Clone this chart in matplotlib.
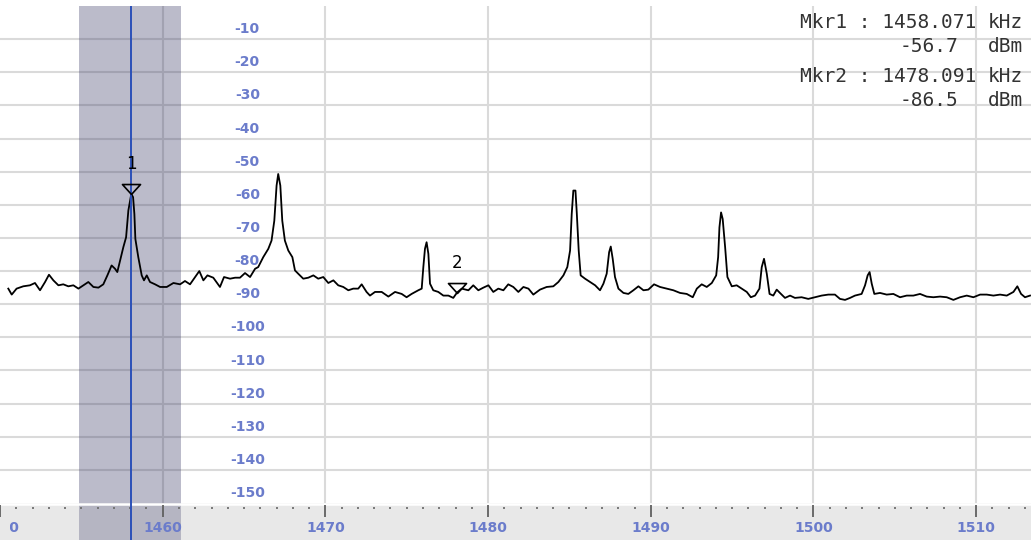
import matplotlib.pyplot as plt
from matplotlib.path import Path
from matplotlib.transforms import Bbox, TransformedBbox

# spectrum trace (kHz, dBm)
freq_khz = [
    1450.51, 1450.72, 1451.02, 1451.43, 1451.84, 1452.15, 1452.46, 1452.77, 1453.01, 1453.28,
    1453.59, 1453.89, 1454.20, 1454.51, 1454.82, 1455.12, 1455.43, 1455.74, 1456.05, 1456.35,
    1456.60, 1456.86, 1457.07, 1457.21, 1457.38, 1457.58, 1457.75, 1457.89, 1458.07, 1458.18,
    1458.26, 1458.32, 1458.50, 1458.71, 1458.85, 1459.02, 1459.22, 1459.53, 1459.84, 1460.25,
    1460.66, 1461.07, 1461.37, 1461.68, 1461.99, 1462.25, 1462.50, 1462.75, 1463.11, 1463.52,
    1463.77, 1464.14, 1464.45, 1464.75, 1465.06, 1465.37, 1465.68, 1465.87, 1466.18, 1466.49,
    1466.69, 1466.86, 1467.00, 1467.10, 1467.23, 1467.35, 1467.51, 1467.72, 1467.97, 1468.13,
    1468.33, 1468.64, 1468.95, 1469.26, 1469.56, 1469.87, 1470.18, 1470.49, 1470.79, 1471.10,
    1471.41, 1471.71, 1472.02, 1472.23, 1472.53, 1472.74, 1473.05, 1473.46, 1473.87, 1474.28,
    1474.69, 1474.99, 1475.30, 1475.71, 1475.92, 1476.02, 1476.12, 1476.22, 1476.33, 1476.43,
    1476.63, 1476.94, 1477.25, 1477.56, 1477.86, 1478.09, 1478.38, 1478.79, 1479.09, 1479.40,
    1479.71, 1480.02, 1480.32, 1480.63, 1480.94, 1481.24, 1481.55, 1481.86, 1482.17, 1482.48,
    1482.78, 1483.19, 1483.60, 1484.01, 1484.32, 1484.63, 1484.87, 1485.04, 1485.14, 1485.24,
    1485.37, 1485.45, 1485.57, 1485.69, 1485.96, 1486.27, 1486.58, 1486.88, 1487.09, 1487.29,
    1487.44, 1487.54, 1487.66, 1487.80, 1488.01, 1488.32, 1488.62, 1488.93, 1489.24, 1489.55,
    1489.85, 1490.20, 1490.57, 1490.98, 1491.39, 1491.80, 1492.21, 1492.58, 1492.83, 1493.13,
    1493.44, 1493.75, 1494.02, 1494.14, 1494.22, 1494.32, 1494.42, 1494.57, 1494.71, 1494.98,
    1495.28, 1495.59, 1495.90, 1496.15, 1496.41, 1496.68, 1496.82, 1496.96, 1497.13, 1497.30,
    1497.53, 1497.74, 1497.94, 1498.25, 1498.56, 1498.86, 1499.27, 1499.68, 1500.09, 1500.50,
    1500.91, 1501.32, 1501.63, 1501.94, 1502.25, 1502.55, 1502.96, 1503.17, 1503.33, 1503.45,
    1503.58, 1503.74, 1504.09, 1504.50, 1504.91, 1505.32, 1505.73, 1506.14, 1506.55, 1506.96,
    1507.37, 1507.78, 1508.19, 1508.60, 1509.01, 1509.42, 1509.83, 1510.24, 1510.65, 1511.06,
    1511.47, 1511.88, 1512.29, 1512.53, 1512.76, 1513.00, 1513.31,
]
level_dbm = [
    -85.3, -87.1, -85.3, -84.6, -84.3, -83.6, -85.8, -83.3, -81.1, -82.8,
    -84.3, -84.0, -84.6, -84.3, -85.3, -84.3, -83.3, -84.8, -85.0, -84.0,
    -81.3, -78.3, -79.3, -80.3, -76.8, -72.8, -69.8, -61.7, -56.7, -57.7,
    -62.8, -70.3, -75.8, -81.3, -82.8, -81.3, -83.3, -84.0, -84.8, -84.8,
    -83.6, -84.0, -83.0, -84.0, -81.8, -80.0, -82.8, -81.3, -82.0, -84.8,
    -81.8, -82.3, -82.0, -82.0, -80.6, -81.8, -79.3, -78.8, -75.8, -73.3,
    -70.8, -64.8, -54.2, -50.7, -54.2, -64.8, -70.8, -73.8, -75.8, -79.8,
    -80.8, -82.3, -82.0, -81.3, -82.3, -81.8, -83.6, -82.8, -84.3, -84.8,
    -85.8, -85.3, -85.3, -84.0, -86.3, -87.4, -86.3, -86.3, -87.7, -86.3,
    -86.9, -87.9, -86.9, -85.8, -85.3, -78.8, -73.3, -71.3, -74.8, -83.8,
    -85.8, -86.3, -87.4, -87.4, -88.1, -86.5, -85.3, -85.8, -84.3, -85.8,
    -85.0, -84.3, -86.3, -85.3, -85.8, -84.0, -84.8, -86.3, -84.8, -85.3,
    -87.1, -85.6, -84.8, -84.6, -83.3, -81.3, -78.8, -73.8, -62.8, -55.7,
    -55.7, -62.3, -73.8, -81.3, -82.3, -83.3, -84.3, -85.8, -83.8, -80.8,
    -74.3, -72.6, -76.3, -81.8, -85.3, -86.6, -86.9, -85.8, -84.6, -85.8,
    -85.6, -84.0, -84.8, -85.3, -85.8, -86.6, -86.9, -87.9, -85.3, -84.0,
    -84.8, -83.6, -81.3, -75.8, -66.8, -62.3, -64.3, -72.8, -81.8, -84.6,
    -84.3, -85.3, -86.3, -87.9, -87.4, -85.3, -78.8, -76.3, -80.8, -86.9,
    -87.4, -85.6, -86.6, -88.1, -87.4, -88.1, -87.9, -88.4, -87.9, -87.4,
    -87.1, -87.1, -88.4, -88.7, -88.1, -87.4, -86.9, -84.3, -81.3, -80.3,
    -83.8, -86.9, -86.6, -87.1, -86.9, -87.9, -87.4, -87.4, -86.9, -87.7,
    -87.9, -87.7, -87.9, -88.7, -87.9, -87.4, -87.9, -87.1, -87.1, -87.4,
    -87.1, -87.4, -86.3, -84.6, -86.9, -87.9, -87.4,
]

# markers
mkr_names = ['1', '2']
mkr_freq = [1458.071, 1478.091]
mkr_level = [-56.7, -86.5]

y_ticks = [-10, -20, -30, -40, -50, -60, -70, -80, -90, -100, -110, -120, -130, -140, -150]
x_ticks = [1450, 1460, 1470, 1480, 1490, 1500, 1510]
span_lo, span_hi = 1454.86, 1461.12

x_min, x_max = 1450, 1513.37
lbl_blue = '#6b7ccb'
mkr_blue = '#2b50b8'

fig = plt.figure(figsize=(10.31, 5.40), dpi=100)
fig.patch.set_facecolor('white')

# main trace area
ax = fig.add_axes([0, 37 / 540, 1, 497 / 540])
ax.set_xlim(x_min, x_max)
ax.set_ylim(-150, 0)
for s in ax.spines.values():
    s.set_visible(False)
ax.set_xticks([])
ax.set_yticks([])

for v in y_ticks[:-1]:
    ax.axhline(v, color='#dadada', lw=1.5, zorder=1)
for f in x_ticks[1:]:
    ax.axvline(f, color='#dadada', lw=1.5, zorder=1)

ax.axvspan(span_lo, span_hi, color='#2c2c5c', alpha=0.32, lw=0, zorder=2)

# y labels sit just above their grid line
for v in y_ticks:
    ax.text(1465.2, v + 3.0, str(v), color=lbl_blue, fontsize=10, ha='center', va='center',
            fontweight='bold', zorder=3)

ax.plot(freq_khz, level_dbm, color='black', lw=1.3, zorder=4)

ax.axvline(mkr_freq[0], color=mkr_blue, lw=1.4, zorder=5)

# flat hollow triangle marker, tip on the trace
tri = Path([(-1, 0.55), (1, 0.55), (0, -0.55), (-1, 0.55)],
           [Path.MOVETO, Path.LINETO, Path.LINETO, Path.CLOSEPOLY])
for name, f, v in zip(mkr_names, mkr_freq, mkr_level):
    ax.plot(f, v + 1.5, marker=tri, ms=13, mfc='none', mec='black', mew=1.2, zorder=6)
    ax.text(f, v + 9.0, name, fontsize=12, ha='center', va='center', color='black', zorder=6)

# marker readout
txt_c = '#333333'
rows = [(f'Mkr1 : {mkr_freq[0]:.3f}', 'kHz', 22),
        (f'{mkr_level[0]:.1f}', 'dBm', 47),
        (f'Mkr2 : {mkr_freq[1]:.3f}', 'kHz', 77),
        (f'{mkr_level[1]:.1f}', 'dBm', 101)]
for i, (left, unit, ypx) in enumerate(rows):
    yf = 1 - ypx / 540
    xr = 976 if i % 2 == 0 else 958
    fig.text(xr / 1031, yf, left, ha='right', va='center', fontsize=14,
             family='DejaVu Sans Mono', color=txt_c)
    fig.text(988 / 1031, yf, unit, ha='left', va='center', fontsize=14,
             family='DejaVu Sans Mono', color=txt_c)

# frequency scale strip at the bottom
bx = fig.add_axes([0, 0, 1, 37 / 540])
bx.set_facecolor('#e8e8e8')
bx.set_xlim(x_min, x_max)
bx.set_ylim(0, 37)
for s in bx.spines.values():
    s.set_visible(False)
bx.set_xticks([])
bx.set_yticks([])
bx.axhline(36.3, color='white', lw=1.8)
bx.axvspan(span_lo, span_hi, color='#2c2c5c', alpha=0.27, lw=0)
minor = [f for f in range(1450, 1514) if f % 10 != 0]
bx.vlines(minor, 31, 33.5, color='#707070', lw=1.3)
bx.vlines(x_ticks, 23, 35, color='#606060', lw=1.3)
# the leftmost label is cut by the edge of the display
clip = TransformedBbox(Bbox([[10 / 1031, 0], [1, 1]]), fig.transFigure)
for f in x_ticks:
    t = bx.text(f, 12, str(f), color=lbl_blue, fontsize=10, fontweight='bold',
                ha='center', va='center')
    t.set_clip_box(clip)
    t.set_clip_on(True)
bx.axvline(mkr_freq[0], color=mkr_blue, lw=1.4)

fig.savefig('out.png', dpi=100)
